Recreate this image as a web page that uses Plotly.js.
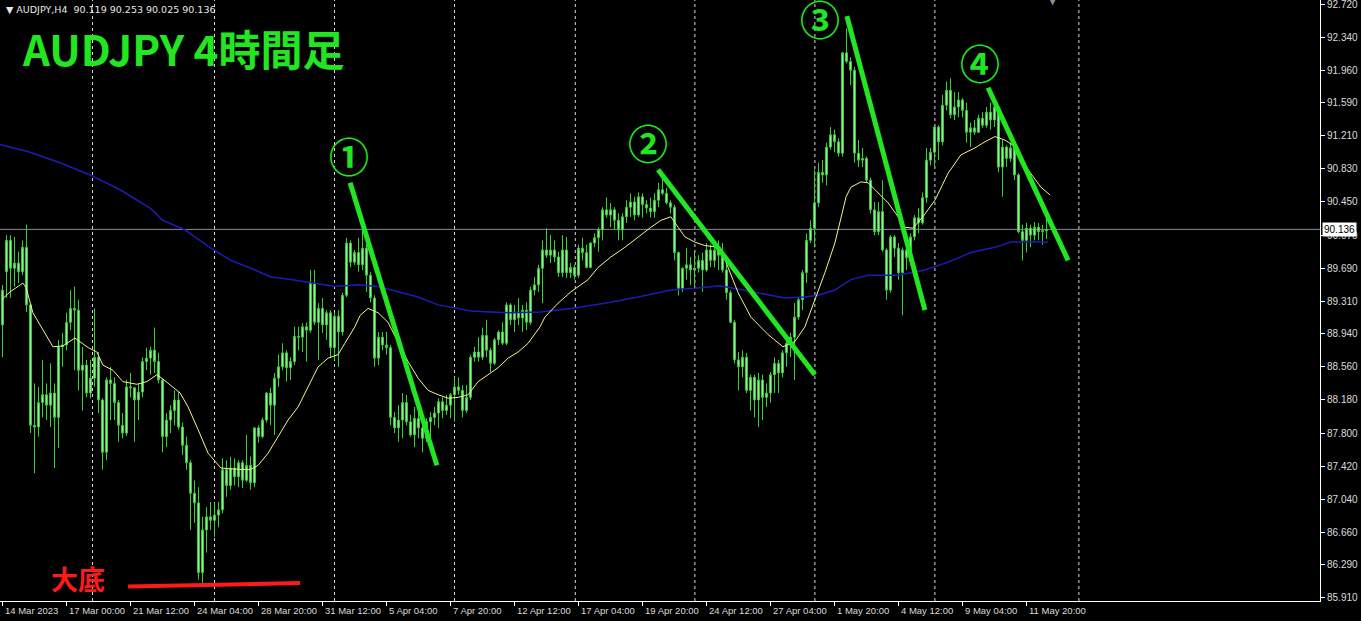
<!DOCTYPE html>
<html>
<head>
<meta charset="utf-8">
<script src="https://cdn.plot.ly/plotly-3.0.1.min.js"></script>
<style>html,body{margin:0;padding:0;background:#000;}#chart{width:1361px;height:621px;}</style>
</head>
<body>
<div id="chart"></div>
<script>
// ---- AUDJPY H4 candles ----
const opens = [
89.04,89.65,90.01,89.69,89.75,89.65,89.93,89.27,87.89,87.87,
88.15,88.24,88.12,88.26,87.98,88.79,88.81,89.07,89.23,89.21,
88.52,88.58,88.26,88.43,88.67,88.18,87.58,88.41,88.37,88.15,
87.89,87.80,88.33,88.32,88.18,88.27,88.62,88.66,88.75,88.62,
88.41,87.76,87.95,88.06,88.18,87.87,87.66,87.46,87.11,87.00,
86.20,86.69,86.84,86.80,86.86,86.92,87.38,87.20,87.40,87.30,
87.46,87.26,87.43,87.23,87.86,87.76,87.95,88.26,88.12,88.43,
88.56,88.72,88.55,88.62,88.91,88.90,89.02,88.98,89.52,89.07,
89.23,89.04,89.18,88.78,89.14,88.96,89.38,89.98,89.76,89.87,
89.73,89.92,89.61,89.35,88.66,88.90,88.81,88.78,87.98,87.86,
87.95,88.15,87.93,87.78,87.97,87.86,87.74,87.93,87.98,88.03,
88.16,88.06,88.12,88.24,88.33,88.29,88.06,88.21,88.67,88.73,
88.67,88.92,88.75,88.60,88.87,88.96,88.83,89.27,89.10,89.19,
89.12,89.21,89.07,89.44,89.50,89.69,89.90,89.84,89.90,89.82,
89.64,89.90,89.64,89.70,89.61,89.92,89.87,89.70,89.98,90.04,
90.13,90.36,90.30,90.36,90.24,90.13,90.28,90.39,90.45,90.30,
90.51,90.42,90.38,90.34,90.47,90.59,90.55,90.44,90.39,89.87,
89.46,89.69,89.73,89.67,89.69,89.78,89.67,89.90,89.78,89.90,
89.84,89.67,89.41,89.07,88.64,88.56,88.67,88.29,88.44,88.18,
88.41,88.21,88.26,88.47,88.60,88.49,88.72,88.83,88.90,89.13,
89.33,89.64,90.01,90.15,90.44,90.79,90.76,91.08,91.22,91.14,
91.01,92.16,92.06,91.96,91.01,90.93,90.95,90.70,90.36,90.11,
90.34,89.90,89.44,90.05,89.92,89.64,89.90,89.81,90.05,90.27,
90.21,90.50,90.93,91.02,91.31,91.14,91.56,91.73,91.45,91.54,
91.62,91.50,91.25,91.30,91.25,91.41,91.33,91.48,91.39,91.54,
90.85,91.08,90.95,91.07,90.76,90.11,90.01,90.15,90.07,90.16,
90.11,90.119];
const highs = [
89.50,90.07,90.07,90.05,89.88,90.01,90.19,89.29,88.37,88.33,
88.64,88.37,88.60,88.37,88.87,88.95,89.18,89.44,89.48,89.33,
88.79,88.64,88.64,89.23,88.73,88.20,88.44,88.56,88.44,88.18,
88.03,88.41,88.49,88.33,88.37,88.67,88.78,88.79,89.01,88.72,
88.43,88.03,88.12,88.29,88.27,87.92,87.76,87.49,87.26,87.18,
86.84,86.95,87.01,87.00,87.01,87.51,87.49,87.53,87.51,87.49,
87.49,87.78,87.53,87.87,87.89,87.98,88.27,88.32,88.49,88.70,
88.83,88.75,88.67,89.02,89.02,89.06,89.07,89.67,89.67,89.29,
89.35,89.21,89.21,89.18,89.21,89.41,90.04,90.01,89.90,90.04,
90.13,89.96,89.65,89.38,88.96,88.96,88.96,88.81,88.04,88.12,
88.26,88.24,88.01,88.10,88.04,88.01,87.97,88.04,88.10,88.20,
88.21,88.24,88.26,88.44,88.44,88.35,88.35,88.70,88.79,88.90,
89.01,89.10,88.78,88.89,88.98,89.07,89.30,89.29,89.27,89.35,
89.27,89.30,89.48,89.59,89.73,90.01,90.15,90.07,90.01,89.88,
90.07,90.05,89.75,89.73,89.96,90.04,89.96,89.99,90.09,90.16,
90.39,90.50,90.44,90.39,90.32,90.32,90.47,90.55,90.51,90.56,
90.55,90.47,90.50,90.55,90.67,90.76,90.61,90.47,90.42,89.88,
89.70,89.92,89.82,89.90,89.84,89.87,89.98,89.96,89.99,90.01,
89.98,89.75,89.44,89.10,88.73,88.75,88.72,88.47,88.47,88.49,
88.47,88.37,88.50,88.67,88.64,88.75,88.87,88.95,89.29,89.36,
89.67,90.09,90.24,90.82,90.90,90.93,91.13,91.31,91.28,91.18,
92.17,92.44,92.11,92.00,91.16,91.07,90.97,90.73,90.45,90.45,
90.70,89.92,90.07,90.07,89.98,89.93,89.93,90.09,90.30,90.38,
90.56,91.07,91.07,91.33,91.33,91.68,91.83,91.87,91.71,91.71,
91.64,91.59,91.36,91.39,91.45,91.48,91.54,91.59,91.64,91.56,
91.16,91.10,91.13,91.10,90.78,90.19,90.21,90.19,90.22,90.21,
90.19,90.253];
const lows = [
88.67,89.35,89.35,89.48,89.52,89.61,89.19,87.80,87.34,87.76,
87.98,87.95,87.87,87.40,87.63,88.56,88.75,88.98,88.52,88.29,
88.06,88.21,88.20,88.33,88.03,87.38,87.49,87.95,87.95,87.70,
87.74,87.77,88.21,87.70,87.95,88.21,88.52,88.47,88.49,88.37,
87.58,87.64,87.80,87.89,87.84,87.55,87.38,86.69,86.77,86.12,
86.08,86.43,86.69,86.61,86.72,86.88,87.07,87.15,87.20,87.18,
87.17,87.24,87.15,87.18,87.69,87.74,87.92,87.89,87.78,88.33,
88.52,88.39,88.41,88.58,88.75,88.73,88.62,88.95,89.04,88.64,
88.95,88.87,88.66,88.64,88.56,88.92,89.36,89.70,89.73,89.65,
89.67,89.42,89.30,88.56,88.58,88.75,88.70,87.89,87.80,87.70,
87.74,87.89,87.76,87.64,87.74,87.58,87.70,87.74,87.89,87.86,
87.97,88.01,87.97,87.93,88.24,87.98,88.03,88.18,88.62,88.62,
88.64,88.67,88.50,88.58,88.81,88.81,88.81,89.04,88.96,89.04,
88.96,88.98,89.04,89.38,89.42,89.29,89.81,89.75,89.76,89.59,
89.59,89.58,89.58,89.56,89.58,89.78,89.69,89.69,89.93,89.88,
90.01,90.27,90.16,90.13,90.01,90.01,90.21,90.28,90.24,90.28,
90.27,90.32,90.27,90.27,90.39,90.53,90.42,90.32,89.78,89.38,
89.42,89.56,89.50,89.46,89.64,89.42,89.65,89.70,89.70,89.67,
89.64,89.33,89.06,88.60,88.29,88.44,88.26,88.06,87.98,87.87,
87.95,88.10,88.15,88.26,88.26,88.44,88.56,88.67,88.41,89.10,
89.21,89.52,89.98,89.93,90.39,90.67,90.64,91.05,91.02,90.97,
90.97,92.04,91.79,90.90,90.85,90.85,90.67,90.32,90.07,90.07,
89.88,89.33,89.41,89.82,89.56,89.15,89.67,89.78,90.01,90.09,
90.19,90.44,90.87,90.85,90.93,91.10,91.50,91.41,91.39,91.42,
91.42,91.13,91.08,91.22,91.24,91.30,91.30,91.28,91.31,90.79,
90.51,90.85,90.91,90.70,90.09,89.78,89.87,89.93,90.01,90.01,
89.96,90.025];
const closes = [
89.44,90.01,89.69,89.75,89.65,89.93,89.27,87.89,87.87,88.15,
88.24,88.12,88.26,87.98,88.79,88.81,89.07,89.23,89.21,88.52,
88.58,88.26,88.43,88.67,88.18,87.58,88.41,88.37,88.15,87.89,
87.80,88.33,88.32,88.18,88.27,88.62,88.66,88.75,88.62,88.41,
87.76,87.95,88.06,88.18,87.87,87.66,87.46,87.11,87.00,86.20,
86.69,86.84,86.80,86.86,86.92,87.38,87.20,87.40,87.30,87.46,
87.26,87.43,87.23,87.86,87.76,87.95,88.26,88.12,88.43,88.56,
88.72,88.55,88.62,88.91,88.90,89.02,88.98,89.52,89.07,89.23,
89.04,89.18,88.78,89.14,88.96,89.38,89.98,89.76,89.87,89.73,
89.92,89.61,89.35,88.66,88.90,88.81,88.78,87.98,87.86,87.95,
88.15,87.93,87.78,87.97,87.86,87.74,87.93,87.98,88.03,88.16,
88.06,88.12,88.24,88.33,88.29,88.06,88.21,88.67,88.73,88.67,
88.92,88.75,88.60,88.87,88.96,88.83,89.27,89.10,89.19,89.12,
89.21,89.07,89.44,89.50,89.69,89.90,89.84,89.90,89.82,89.64,
89.90,89.64,89.70,89.61,89.92,89.87,89.70,89.98,90.04,90.13,
90.36,90.30,90.36,90.24,90.13,90.28,90.39,90.45,90.30,90.51,
90.42,90.38,90.34,90.47,90.59,90.55,90.44,90.39,89.87,89.46,
89.69,89.73,89.67,89.69,89.78,89.67,89.90,89.78,89.90,89.84,
89.67,89.41,89.07,88.64,88.56,88.67,88.29,88.44,88.18,88.41,
88.21,88.26,88.47,88.60,88.49,88.72,88.83,88.90,89.13,89.33,
89.64,90.01,90.15,90.44,90.79,90.76,91.08,91.22,91.14,91.01,
92.16,92.06,91.96,91.01,90.93,90.95,90.70,90.36,90.11,90.34,
89.90,89.44,90.05,89.92,89.64,89.90,89.81,90.05,90.27,90.21,
90.50,90.93,91.02,91.31,91.14,91.56,91.73,91.45,91.54,91.62,
91.50,91.25,91.30,91.25,91.41,91.33,91.48,91.39,91.54,90.85,
91.08,90.95,91.07,90.76,90.11,90.01,90.15,90.07,90.16,90.11,
90.12,90.136];

// ---- moving averages (bar index / price) ----
const maFastBar = [0,1.9,5.1,5.9,7.6,10.1,12.6,15.1,18.1,19.9,21.4,23.6,25.1,27.6,30.1,33.6,36.1,38.6,40.1,44.4,46.4,48.9,51.4,54.6,57.1,61.9,63.9,66.4,68.9,71.4,73.9,76.4,78.9,81.4,83.9,85.6,88.1,89.4,91.4,93.9,96.4,98.9,101.4,103.9,106.4,108.9,111.4,113.9,116.4,118.9,121.4,123.9,126.4,128.9,131.4,134.4,135.6,138.9,142.1,146.4,148.9,152.1,155.6,158.9,162.1,164.6,167.1,168.9,170.6,173.1,175.6,179.4,183.9,187.1,191.4,195.1,198.1,200.6,203.1,205.6,208.1,209.6,210.9,212.1,214.6,216.4,218.9,221.4,223.9,225.6,227.6,230.1,233.1,236.4,239.6,243.1,245.6,248.1,250.6,252.6,254.6,257.1,259.6,261.9];
const maFastVal = [89.34,89.42,89.52,89.47,89.18,88.98,88.79,88.80,88.89,88.83,88.78,88.73,88.58,88.52,88.39,88.36,88.39,88.47,88.42,88.26,88.10,87.84,87.57,87.40,87.39,87.38,87.43,87.57,87.76,87.95,88.10,88.33,88.56,88.66,88.70,88.83,89.02,89.15,89.23,89.18,89.07,88.84,88.62,88.43,88.29,88.24,88.20,88.21,88.24,88.39,88.47,88.55,88.66,88.73,88.83,89.02,89.13,89.29,89.42,89.56,89.70,89.82,89.93,90.05,90.16,90.24,90.28,90.16,90.05,89.99,89.95,89.93,89.41,89.13,88.93,88.79,88.85,89.02,89.33,89.64,89.98,90.28,90.51,90.62,90.68,90.67,90.56,90.44,90.28,90.16,90.15,90.28,90.47,90.78,90.99,91.07,91.14,91.20,91.16,91.10,90.93,90.78,90.62,90.53];
const maSlowBar = [-0.6,6.9,14.4,21.9,29.4,36.9,40.1,45.6,52.1,57.1,62.1,67.1,72.1,77.1,83.1,88.9,93.9,98.9,103.9,108.9,113.1,117.1,122.1,127.1,134.4,142.1,150.6,158.9,167.1,173.1,179.4,187.1,195.6,200.6,203.9,208.1,212.1,216.4,223.9,230.6,236.4,242.1,248.1,252.1,257.1,261.4];
const maSlowVal = [91.11,91.02,90.90,90.76,90.59,90.38,90.24,90.13,89.92,89.78,89.69,89.59,89.56,89.52,89.48,89.50,89.48,89.42,89.36,89.27,89.23,89.20,89.19,89.18,89.19,89.23,89.29,89.36,89.44,89.46,89.49,89.42,89.35,89.36,89.38,89.44,89.56,89.61,89.61,89.67,89.76,89.87,89.93,89.99,89.99,89.99];

// ---- axis labels ----
const dateTickBars = [0,16,32,48,64,80,96,112,128,144,160,176,192,208,224,240,256];
const dateTickText = ['14 Mar 2023','17 Mar 00:00','21 Mar 12:00','24 Mar 04:00','28 Mar 20:00','31 Mar 12:00','5 Apr 04:00','7 Apr 20:00','12 Apr 12:00','17 Apr 04:00','19 Apr 20:00','24 Apr 12:00','27 Apr 04:00','1 May 20:00','4 May 12:00','9 May 04:00','11 May 20:00'];
const priceTicks = [85.91,86.29,86.66,87.04,87.42,87.80,88.18,88.56,88.94,89.31,89.69,90.07,90.45,90.83,91.21,91.59,91.96,92.34,92.72];
const priceTickText = ['85.910','86.290','86.660','87.040','87.420','87.800','88.180','88.560','88.940','89.310','89.690','90.070','90.450','90.830','91.210','91.590','91.960','92.340','92.720'];
const gridBars = [22.5,53,83,113,143.2,173.1,203.1,233.1,269.1];
const lastPrice = 90.136;
const headerText = '▼ AUDJPY,H4  90.119 90.253 90.025 90.136';

// ---- hand-drawn marks on the chart (bar index, price) ----
const trendLines = [
  [86.9, 90.67, 108.6, 87.43],
  [163.9, 90.82, 203.1, 88.47],
  [211.1, 92.58, 230.6, 89.21],
  [246.4, 91.76, 266.4, 89.78]
];
const waveLabels = ['①','②','③','④'];
const waveLabelBar = [86.6, 161.4, 204.4, 244.4];
const waveLabelPrice = [90.99, 91.14, 92.56, 92.06];
const bottomLine = [31.4, 86.04, 74.4, 86.08];
const bottomLabel = '大底';
const bottomLabelPos = [18.9, 86.13];

const GREEN = '#22e622';
const idx = closes.map((_, i) => i);

const traces = [
  {
    type: 'candlestick', x: idx, open: opens, high: highs, low: lows, close: closes,
    increasing: {line: {color: '#3acf3a', width: 1}, fillcolor: '#a8f2a8'},
    decreasing: {line: {color: '#3acf3a', width: 1}, fillcolor: '#a8f2a8'},
    whiskerwidth: 0, hoverinfo: 'skip', showlegend: false
  },
  {
    type: 'scatter', mode: 'lines', x: maSlowBar, y: maSlowVal,
    line: {color: '#1c1cb8', width: 1.5}, hoverinfo: 'skip', showlegend: false
  },
  {
    type: 'scatter', mode: 'lines', x: maFastBar, y: maFastVal,
    line: {color: '#f4f48c', width: 1}, hoverinfo: 'skip', showlegend: false
  }
];

const shapes = [];
gridBars.forEach(b => shapes.push({
  type: 'line', xref: 'x', yref: 'paper', x0: b, x1: b, y0: 0, y1: 1,
  line: {color: '#d8d8d8', width: 1, dash: '3px,3px'}, layer: 'below'
}));
shapes.push({type: 'line', xref: 'paper', yref: 'y', x0: 0, x1: 1, y0: lastPrice, y1: lastPrice,
  line: {color: '#8a8a9c', width: 1}, layer: 'below'});
trendLines.forEach(t => shapes.push({
  type: 'line', xref: 'x', yref: 'y', x0: t[0], y0: t[1], x1: t[2], y1: t[3],
  line: {color: GREEN, width: 5}, layer: 'above'
}));
shapes.push({type: 'line', xref: 'x', yref: 'y', x0: bottomLine[0], y0: bottomLine[1], x1: bottomLine[2], y1: bottomLine[3],
  line: {color: '#ff1a1a', width: 4}, layer: 'above'});

const annotations = [];
dateTickBars.forEach((b, k) => annotations.push({
  xref: 'x', yref: 'paper', x: b, y: 0, xanchor: 'left', yanchor: 'top', xshift: 0, yshift: -2,
  text: dateTickText[k], showarrow: false,
  font: {family: 'Liberation Sans, Arial, sans-serif', size: 9.5, color: '#dcdcdc'}
}));
annotations.push({
  xref: 'paper', yref: 'paper', x: 0.003, y: 1, xanchor: 'left', yanchor: 'top', yshift: -2,
  text: headerText, showarrow: false,
  font: {family: 'DejaVu Sans, Liberation Sans, sans-serif', size: 9.5, color: '#e8e8e8'}
});
annotations.push({
  xref: 'paper', yref: 'paper', x: 0.015, y: 0.921, xanchor: 'left', yanchor: 'middle',
  text: '<b>AUDJPY 4時間足</b>', showarrow: false,
  font: {family: 'Noto Sans CJK JP, sans-serif', size: 42, color: GREEN}
});
waveLabels.forEach((t, k) => annotations.push({
  xref: 'x', yref: 'y', x: waveLabelBar[k], y: waveLabelPrice[k], xanchor: 'center', yanchor: 'middle',
  text: '<b>' + t + '</b>', showarrow: false,
  font: {family: 'Noto Sans CJK JP, sans-serif', size: 40, color: GREEN}
}));
annotations.push({
  xref: 'x', yref: 'y', x: bottomLabelPos[0], y: bottomLabelPos[1], xanchor: 'center', yanchor: 'middle',
  text: '<b>' + bottomLabel + '</b>', showarrow: false,
  font: {family: 'Noto Sans CJK JP, sans-serif', size: 27, color: '#ff1a1a'}
});
annotations.push({
  xref: 'paper', yref: 'y', x: 1, y: lastPrice, xanchor: 'left', yanchor: 'middle', xshift: 2,
  text: lastPrice.toFixed(3), showarrow: false, bgcolor: '#ffffff', borderpad: 1,
  font: {family: 'Liberation Sans, Arial, sans-serif', size: 10, color: '#000000'}
});
annotations.push({
  xref: 'x', yref: 'paper', x: 262.6, y: 1, xanchor: 'center', yanchor: 'middle',
  text: '▼', showarrow: false,
  font: {family: 'DejaVu Sans, sans-serif', size: 12, color: '#8c8c8c'}
});

const layout = {
  width: 1361, height: 621,
  margin: {l: 0, r: 41, t: 0, b: 20, pad: 0},
  paper_bgcolor: '#000000', plot_bgcolor: '#000000',
  showlegend: false, hovermode: false, boxgap: 0.35,
  xaxis: {
    range: [-0.625, 329.375], tickvals: dateTickBars, ticks: 'outside', ticklen: 4, tickcolor: '#ffffff',
    showticklabels: false, showgrid: false, zeroline: false,
    showline: true, linecolor: '#ffffff', linewidth: 1, mirror: true,
    rangeslider: {visible: false}, fixedrange: true
  },
  yaxis: {
    side: 'right', range: [85.875, 92.766], tickvals: priceTicks, ticktext: priceTickText,
    ticks: 'outside', ticklen: 4, tickcolor: '#ffffff', ticklabeloverflow: 'allow',
    tickfont: {family: 'Liberation Sans, Arial, sans-serif', size: 10, color: '#dcdcdc'},
    showgrid: false, zeroline: false, showline: true, linecolor: '#ffffff', linewidth: 1, mirror: true,
    fixedrange: true
  },
  shapes: shapes,
  annotations: annotations
};

Plotly.newPlot('chart', traces, layout, {displayModeBar: false, staticPlot: true});
</script>
</body>
</html>
